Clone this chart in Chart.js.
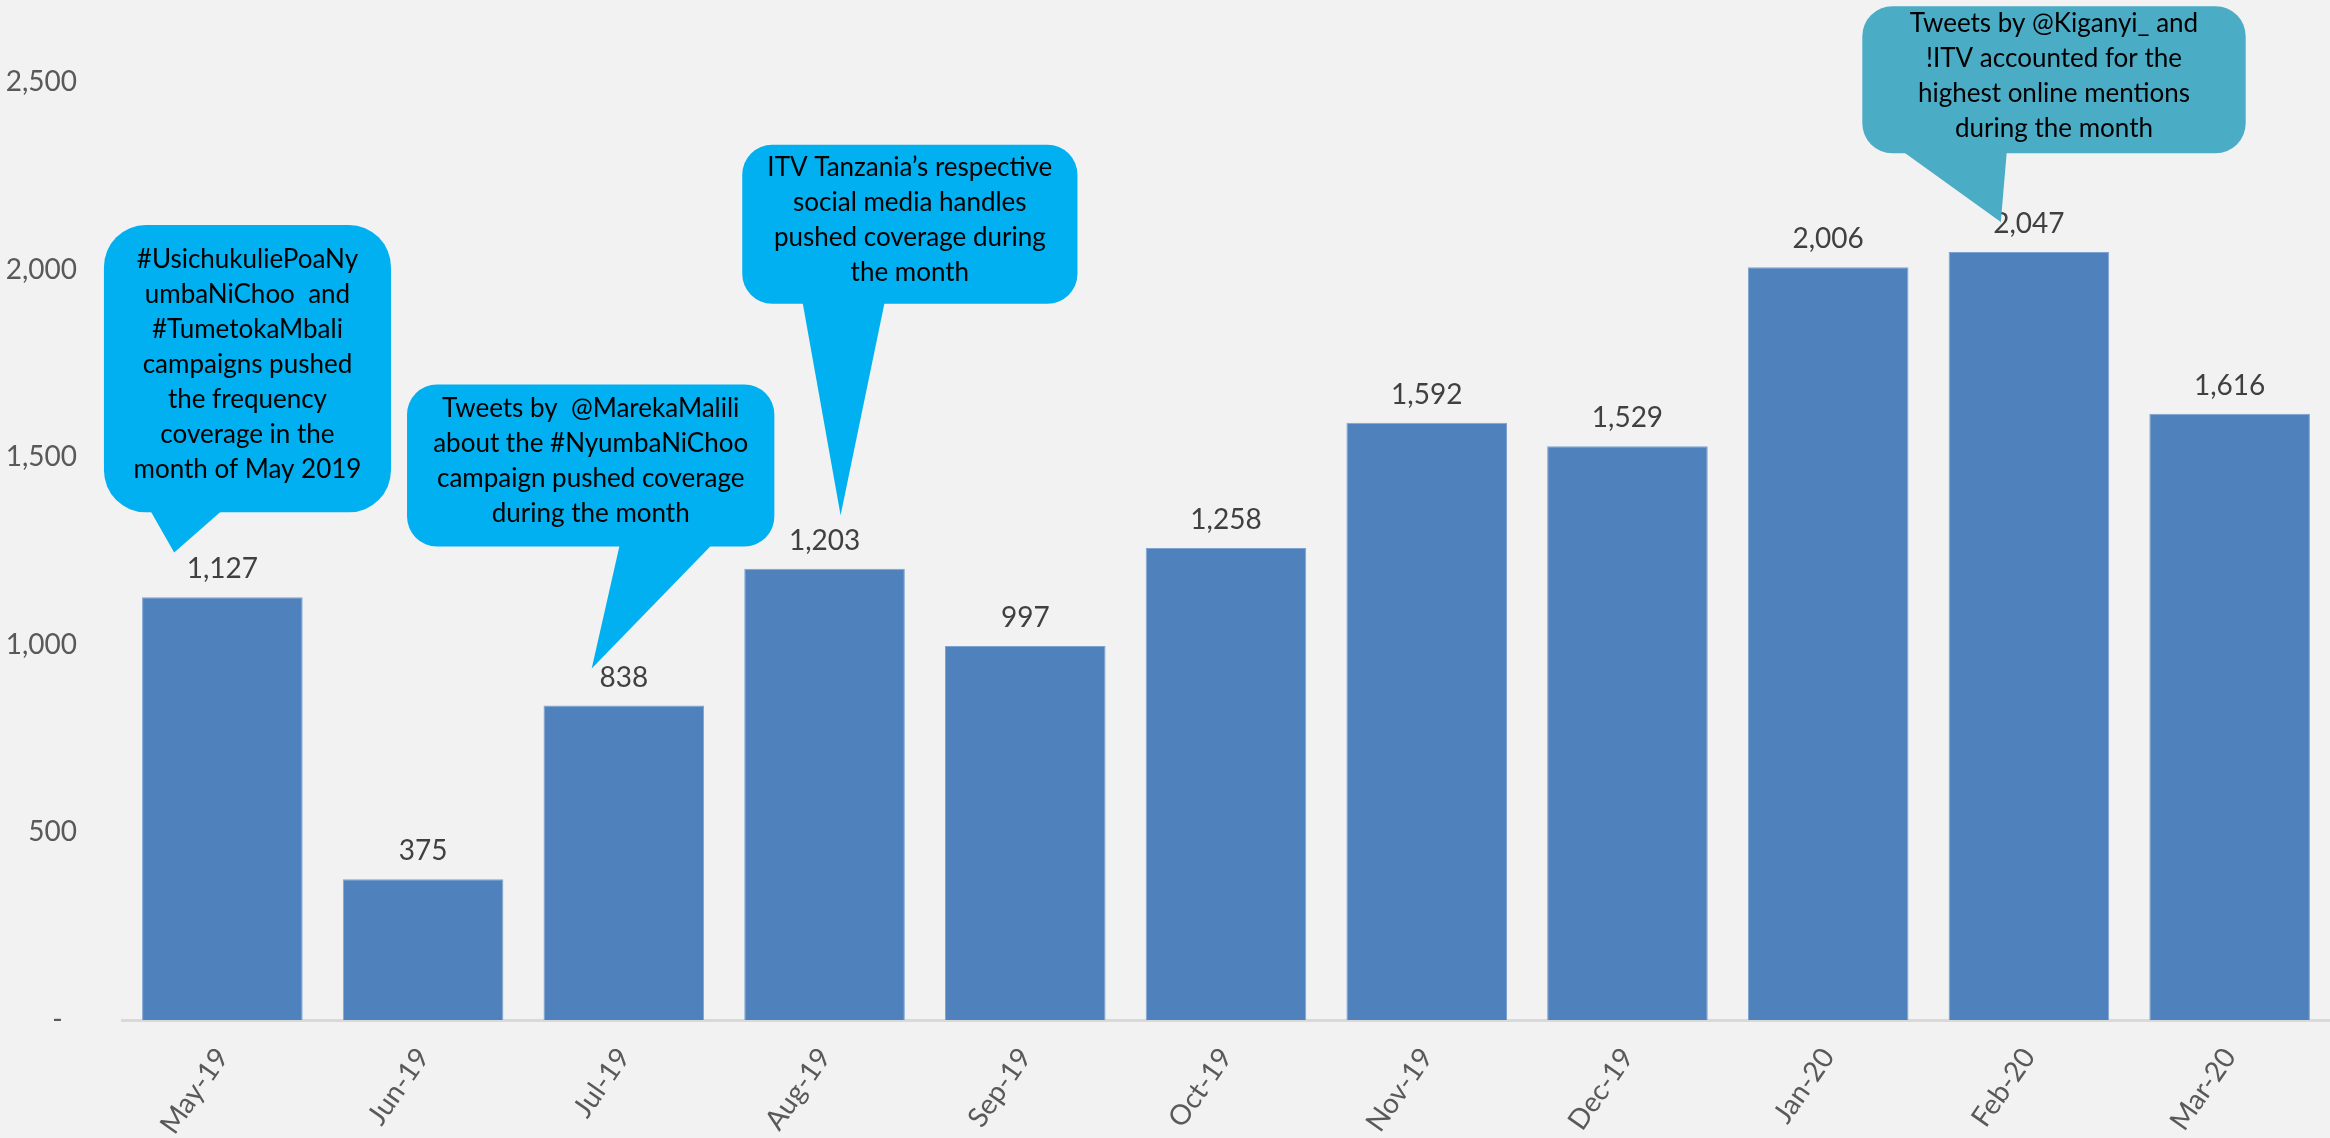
<!DOCTYPE html>
<html lang="en">
<head>
<meta charset="UTF-8">
<meta name="viewport" content="width=device-width, initial-scale=1.0">
<title>Monthly mentions</title>
<script src="https://cdn.jsdelivr.net/npm/chart.js"></script>
<style>
  html, body { margin: 0; padding: 0; background: #f2f2f2; }
  #wrap { width: 2330px; height: 1138px; position: relative; }
</style>
</head>
<body>
<div id="wrap"><canvas id="myChart"></canvas></div>
<script>
const months = ['May-19', 'Jun-19', 'Jul-19', 'Aug-19', 'Sep-19', 'Oct-19', 'Nov-19', 'Dec-19', 'Jan-20', 'Feb-20', 'Mar-20'];
const mentions = [1127, 375, 838, 1203, 997, 1258, 1592, 1529, 2006, 2047, 1616];
const yMin = 0;
const yMax = 2500;
const yStep = 500;

// callout bubbles: box and tail given in category-index / value units
const callouts = [
    {
        lines: ['#UsichukuliePoaNy', 'umbaNiChoo  and', '#TumetokaMbali', 'campaigns pushed', 'the frequency', 'coverage in the', 'month of May 2019'],
        color: '#00b0f0', radius: 42,
        box: [-0.59, 0.84, 2119, 1353],
        tail: [[-0.36, 1353], [0.0, 1353], [-0.24, 1246]]
    },
    {
        lines: ['Tweets by  @MarekaMalili', 'about the #NyumbaNiChoo', 'campaign pushed coverage', 'during the month'],
        color: '#00b0f0', radius: 30,
        box: [0.92, 2.75, 1694, 1262],
        tail: [[1.98, 1262], [2.44, 1262], [1.84, 937]]
    },
    {
        lines: ['ITV Tanzania\u2019s respective', 'social media handles', 'pushed coverage during', 'the month'],
        color: '#00b0f0', radius: 30,
        box: [2.59, 4.26, 2333, 1909],
        tail: [[2.89, 1909], [3.30, 1909], [3.08, 1345]]
    },
    {
        lines: ['Tweets by @Kiganyi_ and', '!ITV accounted for the', 'highest online mentions', 'during the month'],
        color: '#4bacc6', radius: 30,
        box: [8.17, 10.08, 2702, 2310],
        tail: [[8.37, 2310], [8.89, 2310], [8.86, 2127]]
    }
];

const FONT = 'Lato, "Open Sans", sans-serif';

const valueLabels = {
    id: 'valueLabels',
    afterDatasetsDraw(chart) {
        const ctx = chart.ctx;
        const meta = chart.getDatasetMeta(0);
        ctx.save();
        ctx.font = '28px ' + FONT;
        ctx.fillStyle = '#404040';
        ctx.textAlign = 'center';
        ctx.textBaseline = 'bottom';
        meta.data.forEach((bar, i) => {
            ctx.fillText(mentions[i].toLocaleString('en-US'), bar.x, bar.y - 14);
        });
        ctx.restore();
    }
};

const bubbles = {
    id: 'bubbles',
    afterDraw(chart) {
        const ctx = chart.ctx;
        const xs = chart.scales.x;
        const ys = chart.scales.y;
        const px = v => xs.getPixelForValue(v);
        const py = v => ys.getPixelForValue(v);
        ctx.save();
        callouts.forEach(c => {
            const x0 = px(c.box[0]), x1 = px(c.box[1]);
            const y0 = py(c.box[2]), y1 = py(c.box[3]);
            ctx.fillStyle = c.color;
            ctx.beginPath();
            ctx.roundRect(x0, y0, x1 - x0, y1 - y0, c.radius);
            ctx.fill();
            ctx.beginPath();
            ctx.moveTo(px(c.tail[0][0]), py(c.tail[0][1]) - 2);
            ctx.lineTo(px(c.tail[1][0]), py(c.tail[1][1]) - 2);
            ctx.lineTo(px(c.tail[2][0]), py(c.tail[2][1]));
            ctx.closePath();
            ctx.fill();

            ctx.fillStyle = '#000000';
            ctx.font = '26px ' + FONT;
            ctx.textAlign = 'center';
            ctx.textBaseline = 'middle';
            const lh = 35;
            const cx = (x0 + x1) / 2;
            const cy = (y0 + y1) / 2 - 4;
            const start = cy - (c.lines.length - 1) * lh / 2;
            c.lines.forEach((t, i) => ctx.fillText(t, cx, start + i * lh));
        });
        ctx.restore();
    }
};

const ctx = document.getElementById('myChart').getContext('2d');
new Chart(ctx, {
    type: 'bar',
    data: {
        labels: months,
        datasets: [{
            data: mentions,
            backgroundColor: '#4f81bd',
            borderColor: '#7ea3d2',
            borderWidth: 1,
            categoryPercentage: 0.8,
            barPercentage: 1.0
        }]
    },
    options: {
        responsive: true,
        maintainAspectRatio: false,
        animation: false,
        layout: { padding: { top: 82, right: 0, left: 0, bottom: 0 } },
        plugins: {
            legend: { display: false },
            tooltip: { enabled: false }
        },
        scales: {
            x: {
                grid: { display: false },
                border: { display: true, color: '#d9d9d9', width: 3 },
                ticks: {
                    color: '#595959',
                    font: { family: FONT, size: 28 },
                    minRotation: 55,
                    maxRotation: 55,
                    padding: 14,
                    autoSkip: false
                },
                afterFit(scale) { scale.height = 118; }
            },
            y: {
                min: yMin,
                max: yMax,
                grid: { display: false },
                border: { display: false },
                ticks: {
                    stepSize: yStep,
                    color: '#595959',
                    font: { family: FONT, size: 28 },
                    padding: 37,
                    callback: v => v === 0 ? '-  ' : v.toLocaleString('en-US')
                },
                afterFit(scale) { scale.width = 122; }
            }
        }
    },
    plugins: [valueLabels, bubbles]
});
</script>
</body>
</html>
